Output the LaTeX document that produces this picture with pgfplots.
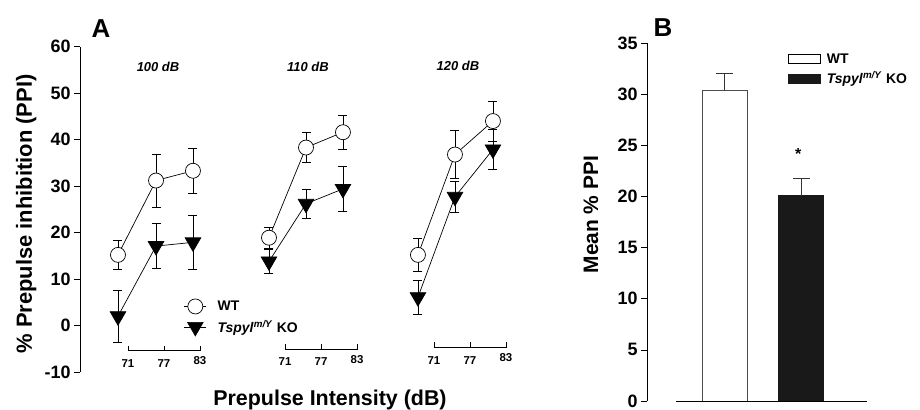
\documentclass[border=0pt]{standalone}
\usepackage{fontspec}
\setmainfont{Liberation Sans}
\usepackage{pgfplots}
\pgfplotsset{compat=1.18}

\pgfplotsset{
  panel/.style={
    scale only axis, clip=false,
    axis y line=left, axis x line=none,
    y axis line style={-, line width=0.8pt},
    tick align=outside, major tick length=6bp,
    ytick style={line width=0.8pt, black},
    yticklabel style={font=\fontsize{18}{18}\selectfont\bfseries},
    /pgf/number format/assume math mode=true,
  },
  wt/.style={black, line width=0.7pt, mark=*, mark size=7.5bp,
    mark options={fill=white, draw=black, line width=0.7pt},
    error bars/.cd, y dir=both, y explicit,
    error bar style={line width=0.7pt},
    error mark options={rotate=90, mark size=4.5bp, line width=0.7pt}},
  ko/.style={black, line width=0.7pt, mark=triangle*, mark size=9bp,
    mark options={rotate=180, fill=black, draw=black},
    error bars/.cd, y dir=both, y explicit,
    error bar style={line width=0.7pt},
    error mark options={rotate=90, mark size=4.5bp, line width=0.7pt}},
}
\tikzset{
  brk/.style={line width=0.7pt},
  brklab/.style={font=\fontsize{11.5}{11.5}\selectfont\bfseries, below},
}

\begin{document}
\begin{tikzpicture}
\useasboundingbox (0,0) rectangle (920bp,410bp);

% panel A
\begin{axis}[panel,
  at={(80bp,38bp)}, anchor=south west,
  width=460bp, height=325.3bp,
  xmin=63, xmax=139.67, ymin=-10, ymax=60,
  ytick={-10,0,...,60},
  legend style={draw=none, fill=none, at={(axis cs:79.8,6.2)}, anchor=north west,
    font=\fontsize{14}{14}\selectfont\bfseries, row sep=4bp, cells={anchor=west}},
  legend image code/.code={
    \draw[mark repeat=2, mark phase=2, #1] plot coordinates {(0bp,0bp) (11bp,0bp) (22bp,0bp)};
    \path (31bp,0bp);},
]
% 100 dB
\addplot[wt] coordinates {(69.33,15.2) +- (0,3.1) (75.67,31.2) +- (0,5.7) (81.83,33.3) +- (0,4.9)};
\addlegendentry{WT}
\addplot[ko] coordinates {(69.33,2.0) +- (0,5.6) (75.67,17.1) +- (0,4.9) (81.83,17.9) +- (0,5.9)};
\addlegendentry{\textit{Tspyl}\textsuperscript{\textit{m/Y}} KO}
% 110 dB
\addplot[forget plot, wt] coordinates {(94.5,18.9) +- (0,2.2) (100.67,38.3) +- (0,3.2) (106.83,41.6) +- (0,3.6)};
\addplot[forget plot, ko] coordinates {(94.5,13.8) +- (0,2.6) (100.67,26.2) +- (0,3.1) (106.83,29.4) +- (0,4.8)};
% 120 dB
\addplot[forget plot, ko] coordinates {(119.33,6.1) +- (0,3.7) (125.5,27.7) +- (0,3.4) (131.83,37.9) +- (0,4.3)};
\addplot[forget plot, wt] coordinates {(119.33,15.2) +- (0,3.6) (125.5,36.8) +- (0,5.1) (131.83,44.0) +- (0,4.3)};

% per-stimulus x brackets
\draw[brk] (axis cs:71,-4.3) -- (axis cs:71,-5.4) -- (axis cs:83,-5.4) -- (axis cs:83,-4.3);
\draw[brk] (axis cs:77,-5.4) -- (axis cs:77,-4.3);
\node[brklab] at (axis cs:71,-6.5) {71};
\node[brklab] at (axis cs:77,-6.5) {77};
\node[brklab] at (axis cs:83,-6.0) {83};
\draw[brk] (axis cs:97.17,-4.0) -- (axis cs:97.17,-5.1) -- (axis cs:109.17,-5.1) -- (axis cs:109.17,-4.0);
\draw[brk] (axis cs:103.17,-5.1) -- (axis cs:103.17,-4.0);
\node[brklab] at (axis cs:97.17,-6.2) {71};
\node[brklab] at (axis cs:103.17,-6.2) {77};
\node[brklab] at (axis cs:109.17,-5.7) {83};
\draw[brk] (axis cs:122,-3.65) -- (axis cs:122,-4.75) -- (axis cs:134,-4.75) -- (axis cs:134,-3.65);
\draw[brk] (axis cs:128,-4.75) -- (axis cs:128,-3.65);
\node[brklab] at (axis cs:122,-5.85) {71};
\node[brklab] at (axis cs:128,-5.85) {77};
\node[brklab] at (axis cs:134,-5.35) {83};

\node[font=\fontsize{13}{13}\selectfont\bfseries\itshape] at (axis cs:76,55.6) {100 dB};
\node[font=\fontsize{13}{13}\selectfont\bfseries\itshape] at (axis cs:101,55.6) {110 dB};
\node[font=\fontsize{13}{13}\selectfont\bfseries\itshape] at (axis cs:126,55.8) {120 dB};
\node[font=\fontsize{21.5}{21.5}\selectfont\bfseries] at (axis cs:104.67,-16) {Prepulse Intensity (dB)};
\node[font=\fontsize{22}{22}\selectfont\bfseries, rotate=90] at (axis description cs:-0.117,0.486) {\% Prepulse inhibition (PPI)};
\node[font=\fontsize{26}{26}\selectfont\bfseries] at (axis description cs:0.0457,1.057) {A};
\end{axis}

% panel B
\begin{axis}[panel,
  at={(647bp,9bp)}, anchor=south west,
  width=220bp, height=357.7bp,
  xmin=-1.018, xmax=1.861, ymin=0, ymax=35,
  ytick={0,5,...,35},
  legend style={draw=none, fill=none, at={(axis cs:0.788,34.4)}, anchor=north west,
    font=\fontsize{14}{14}\selectfont\bfseries, row sep=3bp, cells={anchor=west}},
]
\addplot[ybar, bar width=0.59, bar shift=0pt, fill=white, draw=black!70, line width=0.7pt,
  legend image code/.code={\draw[fill=white, draw=black, line width=0.7pt] (0bp,-4.5bp) rectangle (32bp,4.5bp); \path (36bp,0bp);},
  error bars/.cd, y dir=plus, y explicit, error bar style={line width=0.7pt, black!80},
  error mark options={rotate=90, mark size=8.3bp, line width=0.7pt, black!80}]
  coordinates {(0,30.4) +- (0,1.7)};
\addlegendentry{WT}
\addplot[ybar, bar width=0.59, bar shift=0pt, fill=black!90, draw=black!90, line width=0.7pt,
  legend image code/.code={\draw[fill=black!90, draw=black!90, line width=0.7pt] (0bp,-4.5bp) rectangle (32bp,4.5bp); \path (36bp,0bp);},
  error bars/.cd, y dir=plus, y explicit, error bar style={line width=0.7pt, black!80},
  error mark options={rotate=90, mark size=8.3bp, line width=0.7pt, black!80}]
  coordinates {(1,20.1) +- (0,1.7)};
\addlegendentry{\textit{Tspyl}\textsuperscript{\textit{m/Y}} KO}
\draw[line width=0.8pt] (axis cs:-0.639,0) -- (axis cs:1.861,0);
\node[font=\fontsize{16}{16}\selectfont\bfseries] at (axis cs:0.96,24.2) {*};
\node[font=\fontsize{21}{21}\selectfont\bfseries, rotate=90] at (axis description cs:-0.255,0.521) {Mean \% PPI};
\node[font=\fontsize{26}{26}\selectfont\bfseries] at (axis description cs:0.073,1.045) {B};
\end{axis}
\end{tikzpicture}
\end{document}
